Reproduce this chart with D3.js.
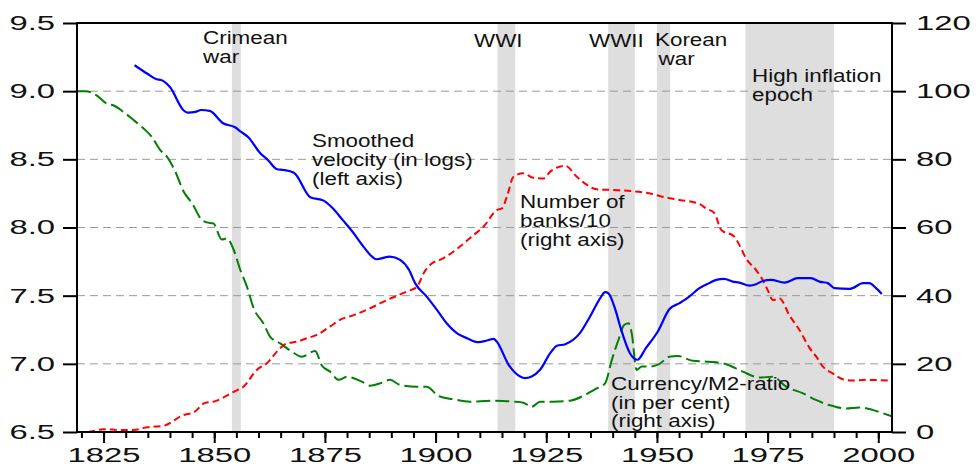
<!DOCTYPE html>
<html>
<head>
<meta charset="utf-8">
<script src="https://cdn.jsdelivr.net/npm/d3@7/dist/d3.min.js"></script>
<style>
  html, body { margin: 0; padding: 0; background: #fff; }
  svg { display: block; }
  text { font-family: "Liberation Sans", Arial, sans-serif; fill: #111; }
</style>
</head>
<body>
<svg id="chart" width="976" height="468"></svg>
<script>
// ---- DATA ----
// Smoothed velocity (in logs), left axis
const velYears = [1832,1835,1837,1838,1840,1843,1844,1846,1847,1849,1852,1854.7,1856,1857.7,1860.4,1862,1864.2,1865.6,1868,1871.7,1874.7,1876.5,1879,1881.5,1883.7,1886.7,1889.7,1892,1894,1895.4,1898,1900.3,1902.5,1904.8,1907.1,1909.7,1911.6,1913.1,1913.8,1916.5,1919.1,1920.2,1921.7,1923.6,1925.9,1927.4,1929.3,1932.6,1934.9,1937.2,1938.3,1939,1940.5,1941.7,1943.9,1945.6,1947.5,1950.2,1952.8,1955.1,1957.3,1959.6,1961.8,1963.4,1965.2,1967.1,1968.6,1970.9,1972.4,1973.9,1975.8,1978.8,1981.8,1984.8,1986.7,1988.6,1990.1,1993.5,1994.2,1996.5,1998,1999.5,2000.8];
const velValues = [9.19,9.126,9.087,9.082,9.03,8.862,8.842,8.85,8.862,8.855,8.765,8.735,8.703,8.662,8.545,8.5,8.427,8.422,8.402,8.222,8.197,8.15,8.056,7.958,7.86,7.767,7.787,7.762,7.689,7.59,7.493,7.396,7.298,7.225,7.188,7.159,7.171,7.183,7.164,6.993,6.907,6.895,6.907,6.956,7.078,7.132,7.144,7.225,7.347,7.482,7.526,7.518,7.408,7.274,7.078,7.03,7.115,7.237,7.4,7.445,7.493,7.555,7.592,7.616,7.623,7.603,7.596,7.574,7.584,7.608,7.616,7.596,7.628,7.628,7.603,7.592,7.555,7.55,7.555,7.592,7.592,7.555,7.513];

// Number of banks / 10, right axis
const bankYears = [1821.5,1822.7,1825,1828.8,1831.8,1834.8,1838.5,1843.1,1845.3,1848,1849.8,1854.4,1856.6,1859.6,1861.9,1864.9,1866.4,1868.7,1870.9,1873.2,1876.2,1878.4,1881.5,1885.2,1889,1893.5,1895.8,1897.3,1899.2,1901,1904,1905.5,1908.6,1910.8,1913.8,1915,1916.1,1917.6,1919.8,1922.1,1924.4,1925.9,1929.3,1931.9,1934.2,1936.4,1940.2,1948.4,1951.3,1955.1,1959.6,1961.1,1963,1964.5,1967.5,1968.6,1970.1,1972.4,1973.9,1975,1976.2,1977.7,1979.9,1982.2,1984.5,1986,1987.5,1989.7,1992,1994.2,1997.2,2002.9];
const bankValues = [0,0.3,0.8,0.6,0.6,1.4,1.8,5.0,5.7,8.6,8.9,11.8,13.3,18.2,20.2,24.6,26.0,26.5,27.5,28.5,31.0,32.9,34.3,36.3,38.7,41.2,42.6,46.6,49.5,50.5,52.9,54.4,57.8,60.2,65.1,65.6,69.0,74.9,75.9,74.6,74.4,76.4,78.1,74.9,72.5,71.2,71.0,70.0,69.0,68.1,66.9,65.6,64.2,59.3,57.3,54.9,51.0,47.5,44.6,41.7,38.7,39.2,34.3,29.9,24.6,22.1,19.2,17.2,15.5,15.1,15.3,15.1];

// Currency / M2 ratio (in per cent), right axis
const curYears = [1819,1821,1823.5,1825.8,1827.3,1829.5,1831.8,1834,1835.9,1837.8,1839.3,1841.2,1843.1,1845,1847.2,1848.3,1849.8,1851.7,1852.9,1854.4,1855.9,1857.4,1858.9,1861.1,1862.6,1864.9,1867.5,1869.8,1872.8,1874.3,1876.2,1878.1,1880,1883.3,1885.2,1887.5,1889.7,1892,1895.8,1898,1900.6,1904,1907.8,1912.3,1915.3,1917.6,1919.8,1921.7,1923.6,1926.6,1930.4,1934.2,1936.4,1938.3,1939.8,1941.3,1942.6,1943.6,1944.3,1945.4,1946.6,1948.4,1950.5,1952.8,1954.7,1958.1,1961.8,1965.6,1969.4,1973.1,1976.2,1979.2,1982.9,1985.9,1988.9,1992.7,1995.7,1998.7,2000.6,2002.9];
const curValues = [100,100,98.7,96.3,95.8,93.9,91.5,89.1,86.6,82.7,80.8,76.4,70.5,67.1,62.2,61.5,61.2,56.5,56.8,53.4,47.5,42.6,36.3,31.9,28.0,26.0,23.6,22.1,23.8,19.5,17.7,15.3,16.2,14.8,13.6,14.3,15.3,13.8,13.3,13.3,10.6,9.6,8.9,9.2,9.1,8.9,8.6,7.4,8.9,8.9,9.2,11.2,12.8,14.3,21.1,27.0,31.4,31.9,29.0,18.2,19.2,19.2,19.9,22.1,22.3,20.9,20.6,19.9,17.7,16.0,16.2,13.3,11.4,9.4,7.9,6.9,7.2,6.5,5.7,4.7];

// Shaded periods
const bandNames = ["Crimean war","WWI","WWII","Korean war","High inflation epoch"];
const bandStart = [1854,1914,1939,1950,1970];
const bandEnd   = [1856,1918,1945,1953,1990];

// Axis ticks
const leftTicks  = [6.5,7.0,7.5,8.0,8.5,9.0,9.5];
const rightTicks = [0,20,40,60,80,100,120];
const yearTicks  = [1825,1850,1875,1900,1925,1950,1975,2000];
const minorYearTicks = d3.range(1820, 2001, 5);
const gridValues = [7.0,7.5,8.0,8.5,9.0];

// Annotation texts (one entry per label, one string per line)
const noteLines = [
  ["Crimean","war"],
  ["WWI"],
  ["WWII"],
  ["Korean","war"],
  ["High inflation","epoch"],
  ["Smoothed","velocity (in logs)","(left axis)"],
  ["Number of","banks/10","(right axis)"],
  ["Currency/M2-ratio","(in per cent)","(right axis)"]
];

// ---- LAYOUT ----
const L = 77, R = 892, T = 23, B = 432;
const svg = d3.select("#chart");
const x  = d3.scaleLinear().domain([1819, 2003.1]).range([L, R]);
const yL = d3.scaleLinear().domain([6.5, 9.5]).range([B, T]);
const yR = d3.scaleLinear().domain([0, 120]).range([B, T]);

// bands
svg.append("g").selectAll("rect").data(bandStart).join("rect")
  .attr("x", (d) => x(d))
  .attr("y", T)
  .attr("width", (d, i) => x(bandEnd[i]) - x(d))
  .attr("height", B - T)
  .attr("fill", "#dedede");

// grid
svg.append("g").selectAll("line").data(gridValues).join("line")
  .attr("x1", L).attr("x2", R)
  .attr("y1", d => yL(d)).attr("y2", d => yL(d))
  .attr("stroke", "#9a9a9a").attr("stroke-width", 1)
  .attr("stroke-dasharray", "8,5");

// series
const mk = (ys, vs) => ys.map((yr, i) => [yr, vs[i]]);
const lineL = d3.line().x(d => x(d[0])).y(d => yL(d[1])).curve(d3.curveMonotoneX);
const lineR = d3.line().x(d => x(d[0])).y(d => yR(d[1])).curve(d3.curveMonotoneX);

svg.append("path").datum(mk(curYears, curValues))
  .attr("d", lineR).attr("fill", "none")
  .attr("stroke", "#008000").attr("stroke-width", 2)
  .attr("stroke-dasharray", "14,5");

svg.append("path").datum(mk(bankYears, bankValues))
  .attr("d", lineR).attr("fill", "none")
  .attr("stroke", "#ff0000").attr("stroke-width", 2)
  .attr("stroke-dasharray", "7,4");

svg.append("path").datum(mk(velYears, velValues))
  .attr("d", lineL).attr("fill", "none")
  .attr("stroke", "#0000ff").attr("stroke-width", 2.2);

// stretched text helper
function stretch(sel, k) {
  sel.each(function() {
    const w = this.getComputedTextLength();
    d3.select(this).attr("textLength", w * k).attr("lengthAdjust", "spacingAndGlyphs");
  });
}

// annotation positions (pixel layout): x, first baseline, line height
const notePos = [
  [203, 44, 18.5], [474, 47, 17], [589, 47, 17], [655, 46, 18.5],
  [752, 81.5, 19], [312, 146.7, 19], [520, 208.3, 19], [611, 390, 18.5]
];
const notes = svg.append("g");
noteLines.forEach((lines, i) => {
  const [px, py, lh] = notePos[i];
  lines.forEach((t, j) => {
    const dx = (i === 3 && j === 1) ? 3.5 : 0;
    notes.append("text")
      .attr("x", px + dx).attr("y", py + j * lh)
      .attr("font-size", 17.5)
      .text(t);
  });
});
stretch(notes.selectAll("text"), 1.28);

// axes
const fmt1 = d3.format(".1f");
const gL = svg.append("g").attr("transform", `translate(${L},0)`)
  .call(d3.axisLeft(yL).tickValues(leftTicks).tickFormat(fmt1).tickSize(14).tickPadding(8).tickSizeOuter(0));
const gR = svg.append("g").attr("transform", `translate(${R},0)`)
  .call(d3.axisRight(yR).tickValues(rightTicks).tickFormat(d3.format("d")).tickSize(14).tickPadding(10).tickSizeOuter(0));
const gMinor = svg.append("g").attr("transform", `translate(0,${B})`)
  .call(d3.axisBottom(x).tickValues(minorYearTicks).tickFormat("").tickSize(6).tickSizeOuter(0));
const gB = svg.append("g").attr("transform", `translate(0,${B})`)
  .call(d3.axisBottom(x).tickValues(yearTicks).tickFormat(d3.format("d")).tickSize(11).tickPadding(5).tickSizeOuter(0));

[gL, gR, gMinor, gB].forEach(g => {
  g.select(".domain").remove();
  g.selectAll(".tick line").attr("stroke", "#000").attr("stroke-width", 2);
  g.selectAll("text").attr("font-size", 20).attr("fill", "#111")
    .style("font-family", '"Liberation Sans", Arial, sans-serif');
});
[gL, gR, gB].forEach(g => stretch(g.selectAll("text"), 1.64));

// frame
svg.append("rect")
  .attr("x", L).attr("y", T).attr("width", R - L).attr("height", B - T)
  .attr("fill", "none").attr("stroke", "#000").attr("stroke-width", 2);
</script>
</body>
</html>
